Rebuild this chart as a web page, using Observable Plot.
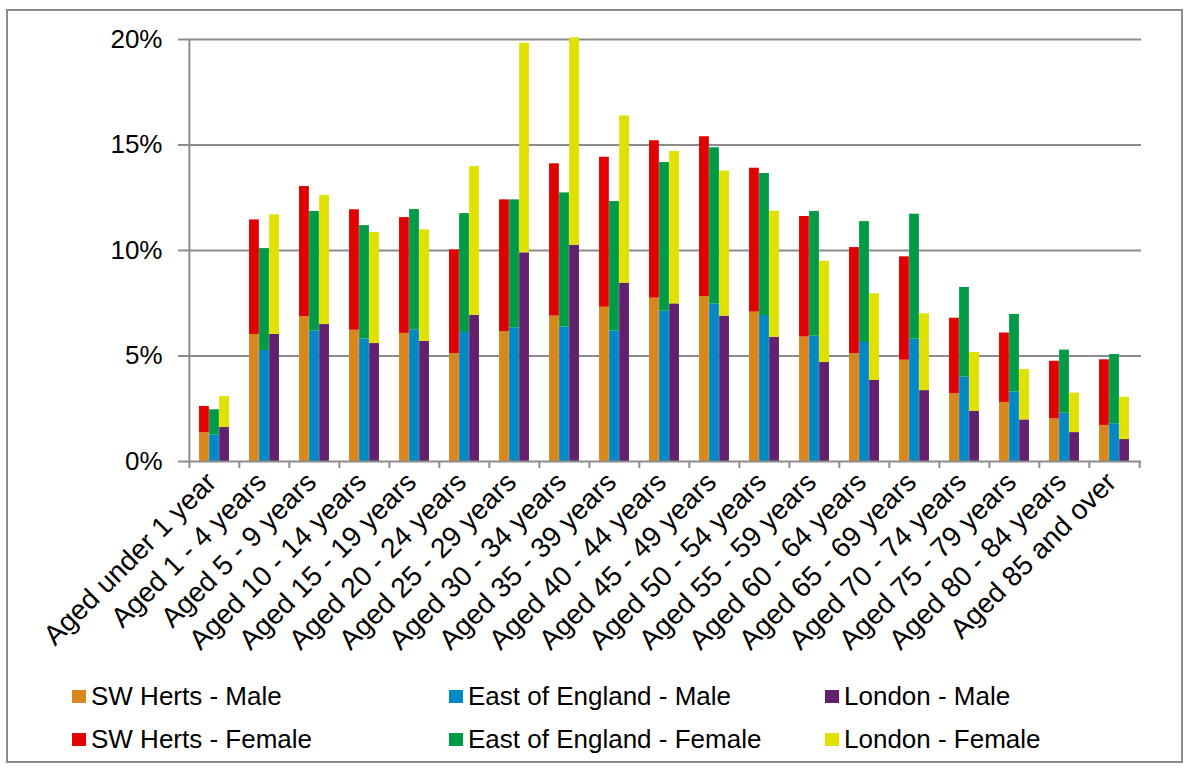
<!DOCTYPE html>
<html><head><meta charset="utf-8">
<script src="https://cdn.jsdelivr.net/npm/d3@7"></script>
<script src="https://cdn.jsdelivr.net/npm/@observablehq/plot@0.6"></script>
<style>
body{margin:0;background:#fff;font-family:"Liberation Sans",Arial,sans-serif;}
#wrap{position:relative;width:1191px;height:770px;overflow:hidden;}
#frame{position:absolute;left:6px;top:9px;width:1177px;height:754px;border:2px solid #8c8c8c;box-sizing:border-box;}
#chart{position:absolute;left:0;top:0;}
.item{position:absolute;font-size:26px;color:#000;white-space:nowrap;line-height:1;}
.sw{position:absolute;width:14px;height:13px;}
</style></head>
<body><div id="wrap"><div id="frame"></div><div id="chart"></div><div id="legend"></div></div>
<script>
const ages = ["Aged under 1 year","Aged 1 - 4 years","Aged 5 - 9 years","Aged 10 - 14 years","Aged 15 - 19 years","Aged 20 - 24 years","Aged 25 - 29 years","Aged 30 - 34 years","Aged 35 - 39 years","Aged 40 - 44 years","Aged 45 - 49 years","Aged 50 - 54 years","Aged 55 - 59 years","Aged 60 - 64 years","Aged 65 - 69 years","Aged 70 - 74 years","Aged 75 - 79 years","Aged 80 - 84 years","Aged 85 and over"];
const regions = ["SW Herts","East of England","London"];
const swMale   = [1.36,6.02,6.87,6.22,6.07,5.12,6.16,6.89,7.31,7.74,7.82,7.08,5.90,5.12,4.80,3.22,2.80,2.02,1.71];
const swFemale = [1.25,5.43,6.16,5.71,5.49,4.91,6.24,7.22,7.11,7.46,7.57,6.82,5.71,5.02,4.90,3.57,3.29,2.73,3.11];
const eoeMale   = [1.26,5.26,6.18,5.81,6.24,6.11,6.34,6.37,6.19,7.12,7.47,6.92,5.94,5.64,5.80,4.00,3.30,2.29,1.79];
const eoeFemale = [1.19,4.83,5.67,5.37,5.70,5.64,6.06,6.36,6.13,7.05,7.40,6.73,5.91,5.73,5.92,4.25,3.67,2.99,3.28];
const lonMale   = [1.61,6.02,6.49,5.59,5.69,6.93,9.89,10.25,8.45,7.47,6.89,5.89,4.69,3.84,3.36,2.37,1.97,1.37,1.04];
const lonFemale = [1.47,5.67,6.12,5.26,5.29,7.05,9.94,9.83,7.93,7.22,6.87,5.97,4.80,4.11,3.64,2.80,2.39,1.87,2.01];
const yTicks = [0,5,10,15,20];
const seriesNames = ["SW Herts - Male","East of England - Male","London - Male","SW Herts - Female","East of England - Female","London - Female"];
const seriesColors = ["#D9861C","#0189C6","#62206E","#E20000","#009B47","#E1E100"];

const values = {"SW Herts":[swMale,swFemale],"East of England":[eoeMale,eoeFemale],"London":[lonMale,lonFemale]};
const rows = [];
for (const r of regions) {
  ages.forEach((a,i)=>{
    rows.push({age:a, region:r, sex:"Male", series:r+" - Male", value:values[r][0][i]});
    rows.push({age:a, region:r, sex:"Female", series:r+" - Female", value:values[r][1][i]});
  });
}

const W=1191, H=660, mL=186, mR=50, mT=39, mB=199;
const bw = (W-mL-mR)/ages.length;
const grey="#8c8c8c";
const font='"Liberation Sans",Arial,sans-serif';

const barMarks = regions.map((r,k)=>Plot.barY(rows.filter(d=>d.region===r), Plot.stackY({
  x:"age", y:"value", fill:"series", z:"sex",
  insetLeft: bw*(0.2+0.2*k), insetRight: bw*(0.6-0.2*k)
})));

const chart = Plot.plot({
  width:W, height:H, marginLeft:mL, marginRight:mR, marginTop:mT, marginBottom:mB,
  style:{fontFamily:font, background:"transparent", color:"#000", overflow:"visible"},
  x:{type:"band", domain:ages, padding:0, label:null},
  y:{domain:[0,20], label:null},
  color:{domain:seriesNames, range:seriesColors},
  marks:[
    Plot.ruleY(yTicks.slice(1), {stroke:grey, strokeWidth:2}),
    ...barMarks,
    Plot.ruleY([0], {stroke:grey, strokeWidth:2}),
    Plot.ruleX([ages[0]], {x:d=>d, dx:-bw/2, stroke:grey, strokeWidth:2}),
    Plot.axisY({ticks:yTicks, tickFormat:d=>d+"%", tickSize:8, tickPadding:16, fontSize:26, stroke:grey, strokeWidth:2, fill:"#000", label:null}),
    Plot.axisX({ticks:ages, tickSize:7, dx:-bw/2, tickFormat:()=>"", stroke:grey, strokeWidth:2, label:null}),
    Plot.axisX({ticks:[ages[ages.length-1]], tickSize:7, dx:bw/2, tickFormat:()=>"", stroke:grey, strokeWidth:2, label:null}),
    Plot.axisX({tickSize:0, tickPadding:16, tickRotate:-45, fontSize:28, dx:-3, fill:"#000", label:null})
  ]
});
document.getElementById("chart").appendChild(chart);

const leg = document.getElementById("legend");
const colX=[72,449,825], rowY=[683,726];
seriesNames.forEach((s,i)=>{
  const c=i%3, rr=Math.floor(i/3);
  const sw=document.createElement("div"); sw.className="sw";
  sw.style.left=colX[c]+"px"; sw.style.top=(rowY[rr]+7)+"px"; sw.style.background=seriesColors[i];
  const t=document.createElement("div"); t.className="item";
  t.style.left=(colX[c]+19)+"px"; t.style.top=rowY[rr]+"px"; t.textContent=s;
  leg.appendChild(sw); leg.appendChild(t);
});
</script></body></html>
